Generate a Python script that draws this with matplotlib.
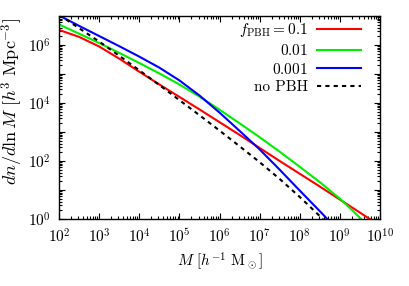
import matplotlib
matplotlib.use('Agg')
import matplotlib.pyplot as plt
from matplotlib.ticker import LogLocator, NullFormatter
import numpy as np

# log10 of mass and log10 of dn/dlnM
logM_01 = [2.0, 2.5, 3.0, 3.5, 4.0, 4.5, 5.0, 5.5, 6.0, 6.5, 7.0, 7.5, 8.0, 8.5, 9.0, 9.5, 9.8]
logN_01 = [6.52, 6.28, 5.95, 5.53, 5.08, 4.64, 4.21, 3.78, 3.34, 2.90, 2.45, 2.00, 1.56, 1.12, 0.67, 0.22, -0.05]

logM_001 = [2.0, 2.5, 3.0, 3.5, 4.0, 4.5, 5.0, 5.5, 6.0, 6.5, 7.0, 7.5, 8.0, 8.5, 9.0, 9.25, 9.5, 9.6]
logN_001 = [6.71, 6.39, 6.07, 5.73, 5.38, 5.02, 4.64, 4.22, 3.77, 3.30, 2.82, 2.32, 1.80, 1.27, 0.70, 0.38, 0.04, -0.1]

logM_0001 = [2.0, 2.5, 3.0, 3.5, 4.0, 4.5, 5.0, 5.5, 6.0, 6.5, 7.0, 7.5, 8.0, 8.5, 8.7]
logN_0001 = [7.02, 6.66, 6.31, 5.96, 5.60, 5.22, 4.78, 4.26, 3.67, 3.04, 2.40, 1.70, 0.98, 0.27, -0.02]

logM_nopbh = [2.0, 2.5, 3.0, 3.5, 4.0, 4.5, 5.0, 5.5, 6.0, 6.5, 7.0, 7.5, 8.0, 8.5, 8.6]
logN_nopbh = [7.04, 6.58, 6.12, 5.63, 5.13, 4.62, 4.10, 3.58, 3.05, 2.51, 1.96, 1.38, 0.76, 0.10, -0.05]

plt.rcParams['mathtext.fontset'] = 'cm'
plt.rcParams['font.family'] = 'serif'
plt.rcParams['font.serif'] = ['cmr10', 'DejaVu Serif']
plt.rcParams['axes.formatter.use_mathtext'] = True
plt.rcParams['font.size'] = 11

fig = plt.figure(figsize=(4.09, 2.86), dpi=100)
ax = fig.add_axes([59/409, 1 - 219/286, 321/409, 203/286])

ax.plot(10**np.array(logM_01), 10**np.array(logN_01), color='#ff0000', lw=1.5,
        label=r'$f_{\rm PBH}=0.1$')
ax.plot(10**np.array(logM_001), 10**np.array(logN_001), color='#00ee00', lw=1.5,
        label=r'$0.01$')
ax.plot(10**np.array(logM_0001), 10**np.array(logN_0001), color='#0000ff', lw=1.5,
        label=r'$0.001$')
ax.plot(10**np.array(logM_nopbh), 10**np.array(logN_nopbh), color='black', lw=1.5,
        dashes=(2, 2), label='no PBH')

ax.set_xscale('log')
ax.set_yscale('log')
ax.set_xlim(1e2, 1e10)
ax.set_ylim(1, 1e7)
ax.set_xticks([10.0**k for k in range(2, 11)])
ax.set_yticks([10.0**k for k in range(0, 8)])
ax.set_yticklabels([r'$10^{%d}$' % k if k % 2 == 0 and k < 7 else '' for k in range(0, 8)])
ax.xaxis.set_minor_locator(LogLocator(base=10, subs=np.arange(2, 10), numticks=100))
ax.yaxis.set_minor_locator(LogLocator(base=10, subs=np.arange(2, 10), numticks=100))
ax.xaxis.set_minor_formatter(NullFormatter())
ax.yaxis.set_minor_formatter(NullFormatter())
ax.tick_params(which='both', direction='in', top=True, right=True, width=0.8)
ax.tick_params(which='major', length=4, pad=6)
ax.tick_params(which='minor', length=2.5)
for s in ax.spines.values():
    s.set_linewidth(1.0)

ax.set_xlabel(r'$M\ [h^{-1}\ \mathrm{M}_\odot]$', labelpad=3)
ax.set_ylabel(r'$dn/d\ln M\ [h^3\ \mathrm{Mpc}^{-3}]$', fontsize=13)
ax.yaxis.set_label_coords(-0.105, 0.58)

ax.legend(loc='upper right', bbox_to_anchor=(0.97, 1.02), frameon=False,
          markerfirst=False, handlelength=2.9, handletextpad=0.6,
          labelspacing=0.25, borderaxespad=0.2)

plt.savefig('out.png', dpi=100)
